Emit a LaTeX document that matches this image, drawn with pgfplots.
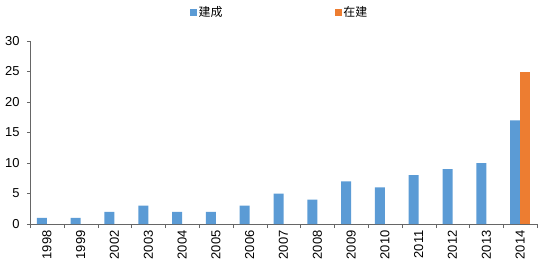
\documentclass[border=0pt]{standalone}
\usepackage{pgfplots}
\pgfplotsset{compat=1.18}
\usepackage{fontspec}
\setmainfont{Liberation Sans}
\newfontfamily\cjk{Noto Sans CJK SC}
\definecolor{cblue}{HTML}{5B9BD5}
\definecolor{corange}{HTML}{ED7D31}
\begin{document}
\begin{tikzpicture}[x=1bp,y=1bp]
\path[use as bounding box] (-30bp,-43bp) rectangle (514bp,224bp);
\begin{axis}[
  scale only axis,
  width=507bp, height=183bp,
  xmin=-0.5, xmax=14.5,
  ymin=0, ymax=30,
  ytick={0,5,...,30},
  xtick={0,...,14},
  xticklabels={1998,1999,2002,2003,2004,2005,2006,2007,2008,2009,2010,2011,2012,2013,2014},
  x tick label style={rotate=90, anchor=east, font=\fontsize{13}{15}\selectfont, xshift=0bp},
  y tick label style={font=\fontsize{13}{15}\selectfont, xshift=-4bp},
  /pgf/number format/assume math mode=true,
  major x tick style={draw=none},
  minor xtick={-0.5,0.5,...,14.5},
  minor x tick style={draw=gray!80!black},
  minor tick length=4bp,
  major tick length=3bp,
  tick align=outside,
  y tick style={draw=gray!80!black},
  axis x line*=bottom,
  axis y line*=left,
  axis line style={draw=gray!80!black},
  every outer x axis line/.append style={-},
  every outer y axis line/.append style={-},
  ybar=0pt,
  bar width=10bp,
  legend style={at={(0.5,1.0)}, xshift=-4bp, yshift=29bp, anchor=center, draw=none, fill=none, legend columns=2, font=\cjk\fontsize{12}{14}\selectfont, /tikz/every even column/.append style={column sep=110bp}},
  legend image code/.code={\fill[#1] (0bp,-3.5bp) rectangle (7bp,3.5bp);},
  clip=false,
]
\addplot[fill=cblue, draw=none] coordinates {(0,1) (1,1) (2,2) (3,3) (4,2) (5,2) (6,3) (7,5) (8,4) (9,7) (10,6) (11,8) (12,9) (13,10) (14,17)};
\addplot[fill=corange, draw=none] coordinates {(14,25)};
\legend{建成,在建}
\end{axis}
\end{tikzpicture}
\end{document}
